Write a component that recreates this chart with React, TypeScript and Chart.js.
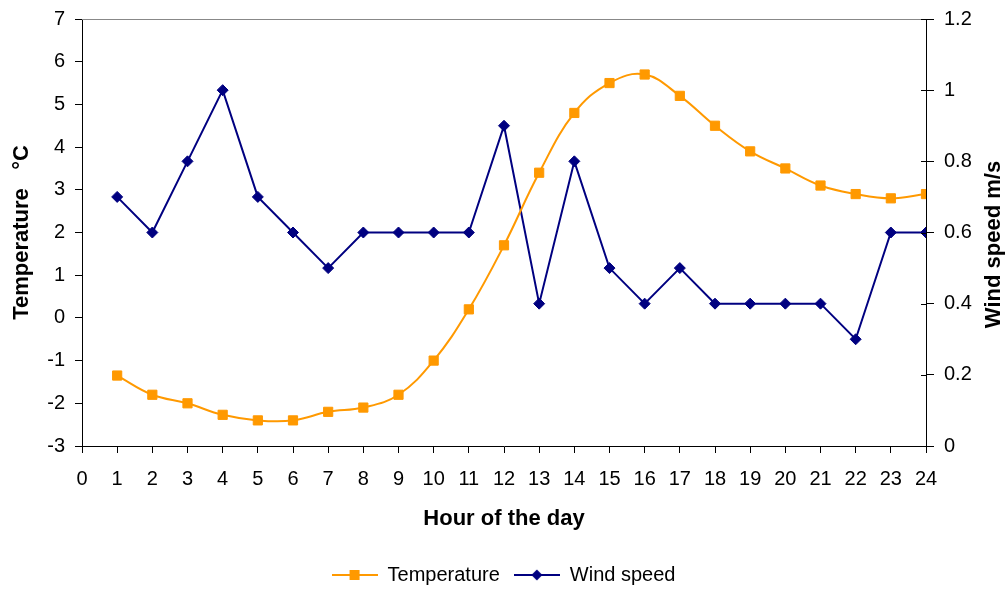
import React, { useEffect, useRef } from "react";
import { Chart, registerables } from "chart.js";

Chart.register(...registerables);

const hours = [1, 2, 3, 4, 5, 6, 7, 8, 9, 10, 11, 12, 13, 14, 15, 16, 17, 18, 19, 20, 21, 22, 23, 24];
const temperature = [-1.35, -1.8, -2.0, -2.27, -2.4, -2.4, -2.2, -2.1, -1.8, -1.0, 0.2, 1.7, 3.4, 4.8, 5.5, 5.7, 5.2, 4.5, 3.9, 3.5, 3.1, 2.9, 2.8, 2.9];
const windSpeed = [0.7, 0.6, 0.8, 1.0, 0.7, 0.6, 0.5, 0.6, 0.6, 0.6, 0.6, 0.9, 0.4, 0.8, 0.5, 0.4, 0.5, 0.4, 0.4, 0.4, 0.4, 0.3, 0.6, 0.6];
const seriesNames = ["Temperature", "Wind speed"];
const xTitle = "Hour of the day";
const yLeftTitle = "Temperature   °C";
const yRightTitle = "Wind speed m/s";

const ORANGE = "#FF9900";
const NAVY = "#000080";
const FONT = "'Liberation Sans', Arial, sans-serif";
const LAYOUT_BOTTOM = -5;

function legendSwatch(color: string, shape: "square" | "diamond"): HTMLCanvasElement {
  const c = document.createElement("canvas");
  c.width = 46;
  c.height = 14;
  const ctx = c.getContext("2d")!;
  ctx.strokeStyle = color;
  ctx.lineWidth = 2;
  ctx.beginPath();
  ctx.moveTo(0, 7);
  ctx.lineTo(46, 7);
  ctx.stroke();
  ctx.fillStyle = color;
  if (shape === "square") {
    ctx.fillRect(18, 2, 10, 10);
  } else {
    ctx.beginPath();
    ctx.moveTo(23, 1.5);
    ctx.lineTo(28.5, 7);
    ctx.lineTo(23, 12.5);
    ctx.lineTo(17.5, 7);
    ctx.closePath();
    ctx.fill();
  }
  return c;
}

export default function App() {
  const ref = useRef<HTMLCanvasElement | null>(null);

  useEffect(() => {
    if (!ref.current) return;
    const swatches = [legendSwatch(ORANGE, "square"), legendSwatch(NAVY, "diamond")];

    const framePlugin = {
      id: "frameExtras",
      beforeDatasetsDraw(chart: any) {
        const { ctx, chartArea } = chart;
        ctx.save();
        ctx.strokeStyle = "#888888";
        ctx.lineWidth = 1;
        ctx.beginPath();
        ctx.moveTo(chartArea.left, Math.round(chartArea.top) + 0.5);
        ctx.lineTo(chartArea.right, Math.round(chartArea.top) + 0.5);
        ctx.stroke();
        ctx.restore();
      },
      afterDraw(chart: any) {
        const { ctx, chartArea } = chart;
        const y1 = chart.scales.y1;
        ctx.save();
        ctx.strokeStyle = "#000000";
        ctx.lineWidth = 1;
        y1.ticks.forEach((t: any) => {
          const py = Math.round(y1.getPixelForValue(t.value)) + 0.5;
          ctx.beginPath();
          ctx.moveTo(chartArea.right - 5, py);
          ctx.lineTo(chartArea.right, py);
          ctx.stroke();
        });
        ctx.fillStyle = "#000000";
        ctx.font = `bold 22px ${FONT}`;
        ctx.textAlign = "center";
        ctx.textBaseline = "middle";
        ctx.translate(994, (chartArea.top + chartArea.bottom) / 2 + 12);
        ctx.rotate(-Math.PI / 2);
        ctx.fillText(yRightTitle, 0, 0);
        ctx.restore();
      },
    };

    const fixVertical = (width: number) => (s: any) => {
      s.width = width;
      s.paddingTop = 0;
      s.paddingBottom = 0;
    };

    const chart = new Chart(ref.current, {
      type: "line",
      data: {
        datasets: [
          {
            label: seriesNames[0],
            data: hours.map((h, i) => ({ x: h, y: temperature[i] })),
            yAxisID: "y",
            borderColor: ORANGE,
            backgroundColor: ORANGE,
            borderWidth: 2,
            tension: 0.4,
            pointStyle: "rect",
            pointRadius: 6.5,
            pointBorderWidth: 1,
            pointBackgroundColor: ORANGE,
            pointBorderColor: ORANGE,
          },
          {
            label: seriesNames[1],
            data: hours.map((h, i) => ({ x: h, y: windSpeed[i] })),
            yAxisID: "y1",
            borderColor: NAVY,
            backgroundColor: NAVY,
            borderWidth: 2,
            tension: 0,
            pointStyle: "rectRot",
            pointRadius: 5.5,
            pointBorderWidth: 1,
            pointBackgroundColor: NAVY,
            pointBorderColor: NAVY,
          },
        ],
      },
      options: {
        animation: false,
        responsive: false,
        layout: { padding: { top: 19, left: 0, right: 0, bottom: LAYOUT_BOTTOM } },
        plugins: {
          tooltip: { enabled: false },
          legend: {
            display: true,
            position: "bottom",
            labels: {
              usePointStyle: true,
              pointStyleWidth: 46,
              padding: 14,
              color: "#000000",
              font: { family: FONT, size: 20 },
              generateLabels: (chart: any) =>
                chart.data.datasets.map((ds: any, i: number) => ({
                  text: ds.label,
                  pointStyle: swatches[i],
                  fillStyle: ds.borderColor,
                  strokeStyle: ds.borderColor,
                  lineWidth: 0,
                  hidden: false,
                  datasetIndex: i,
                  fontColor: "#000000",
                })),
            },
          },
        },
        scales: {
          x: {
            type: "linear",
            min: 0,
            max: 24,
            afterFit: (s: any) => {
              s.height = 590 - LAYOUT_BOTTOM - 446 - (s.chart.legend ? s.chart.legend.height : 44);
            },
            ticks: {
              stepSize: 1,
              color: "#000000",
              padding: 14,
              font: { family: FONT, size: 20 },
            },
            grid: {
              drawOnChartArea: false,
              drawTicks: true,
              tickLength: 7,
              color: "#000000",
            },
            border: { display: true, color: "#000000", width: 1 },
            title: {
              display: true,
              text: xTitle,
              color: "#000000",
              font: { family: FONT, size: 22, weight: "bold" },
              padding: { top: 0, bottom: 19 },
            },
          },
          y: {
            type: "linear",
            position: "left",
            min: -3,
            max: 7,
            afterFit: fixVertical(82),
            ticks: {
              stepSize: 1,
              color: "#000000",
              padding: 10,
              font: { family: FONT, size: 20 },
            },
            grid: {
              drawOnChartArea: false,
              drawTicks: true,
              tickLength: 7,
              color: "#000000",
            },
            border: { display: true, color: "#000000", width: 1 },
            title: {
              display: true,
              text: yLeftTitle,
              color: "#000000",
              font: { family: FONT, size: 22, weight: "bold" },
              padding: { top: 9, bottom: 0 },
            },
          },
          y1: {
            type: "linear",
            position: "right",
            min: 0,
            max: 1.2,
            afterFit: fixVertical(81),
            ticks: {
              stepSize: 0.2,
              color: "#000000",
              padding: 10,
              font: { family: FONT, size: 20 },
              callback: (v: any) => String(Number(Number(v).toFixed(1))),
            },
            grid: {
              drawOnChartArea: false,
              drawTicks: true,
              tickLength: 8,
              color: "#000000",
            },
            border: { display: true, color: "#000000", width: 1 },
          },
        },
      },
      plugins: [framePlugin],
    });

    return () => chart.destroy();
  }, []);

  return (
    <canvas
      ref={ref}
      width={1007}
      height={590}
      style={{ position: "fixed", left: 0, top: 0, display: "block", width: 1007, height: 590, background: "#ffffff" }}
    />
  );
}
